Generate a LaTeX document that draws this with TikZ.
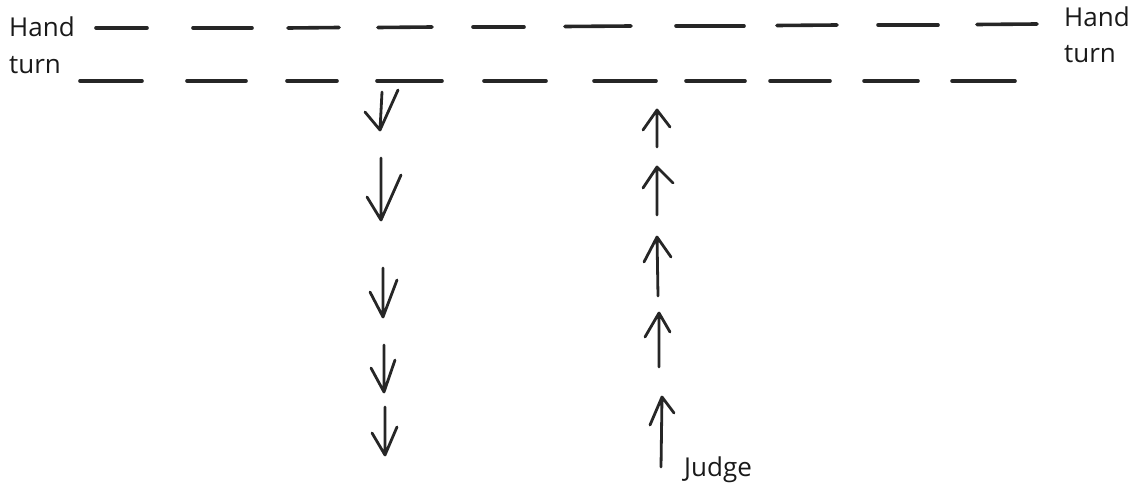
\documentclass[tikz,border=0pt]{standalone}
\usepackage{fontspec}
\setmainfont{Open Sans}
\begin{document}
\begin{tikzpicture}[x=1pt,y=-1pt,
  dashline/.style={line width=3.6pt,line cap=round,color=black!85},
  arr/.style={line width=2.8pt,line cap=round,line join=round,color=black!85},
  lbl/.style={font=\fontsize{26}{28}\selectfont,inner sep=0pt,anchor=base west,text=black!90}]
\useasboundingbox (0,0) rectangle (1131,487);
% labels
\node[lbl] (hl) at (9,37) {Hand};
\node[lbl] (tl) at (9,73) {turn};
\node[lbl] (hr) at (1064,27) {Hand};
\node[lbl] (tr) at (1064,63) {turn};
\node[lbl] (judge) at (684,476) {Judge};
% top row of dashes
\foreach \a/\b/\ya/\yb in {96/147/28/28, 193/252/28/28, 288/339/28/27.5, 378/432/27.5/27, 473/524/27/27, 565/631/26.5/26, 676/744/26/26, 777/837/25.5/25, 878/938/25/25, 977/1037/24.5/24}
  \draw[dashline] (\a,\ya) -- (\b,\yb);
% bottom row of dashes
\foreach \a/\b in {80/142, 187/246, 287/337, 377/442, 484/546, 594/656, 686/745, 770/830, 864/918, 952/1015}
  \draw[dashline] (\a,81) -- (\b,81);
% down arrows: top, tip, left arm, right arm
\foreach \sx/\sy/\tx/\ty/\lx/\ly/\rx/\ry in {
  382/92/380/130/365/112/398/90,
  381/158/381/220/367/197/401/175,
  383/268/383/317/370/292/397/280,
  384/345/384/392/371/368/395/360,
  385/407/385/455/372/433/397/427}
  \draw[arr] (\sx,\sy) -- (\tx,\ty) (\lx,\ly) -- (\tx,\ty) -- (\rx,\ry);
% up arrows: bottom, tip, left arm, right arm
\foreach \bx/\by/\tx/\ty/\lx/\ly/\rx/\ry in {
  657/147/657/110/643/130/670/127,
  657/215/657/167/643/188/673/183,
  658/296/657/237/644/262/671/257,
  659/367/659/313/645/337/670/332,
  661/467/662/397/650/425/674/413}
  \draw[arr] (\bx,\by) -- (\tx,\ty) (\lx,\ly) -- (\tx,\ty) -- (\rx,\ry);
\end{tikzpicture}
\end{document}
